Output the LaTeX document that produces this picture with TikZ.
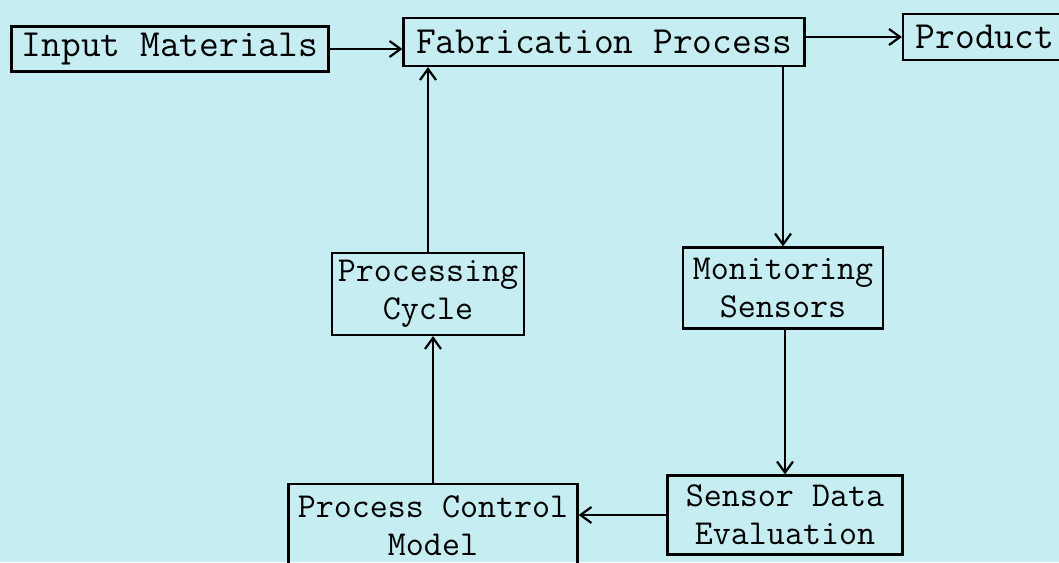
\documentclass[tikz,border=0pt]{standalone}
\usetikzlibrary{arrows.meta}
\definecolor{bgcyan}{RGB}{197,237,242}
\tikzset{
  procbox/.style={draw, line width=1.1pt, inner sep=0pt, align=center,
    font=\fontsize{17.5}{19}\selectfont\ttfamily},
  bigbox/.style={procbox, font=\fontsize{19.2}{21}\selectfont\ttfamily},
  flow/.style={line width=1.1pt, -{Straight Barb[length=5.5pt,width=8pt]}}
}
\begin{document}
\begin{tikzpicture}[x=0.5pt,y=-0.5pt]
\useasboundingbox[fill=bgcyan] (0,0) rectangle (1059,562);

% top row
\node[bigbox, minimum width=158.5pt, minimum height=22.5pt] at (170,49) (inmat) {Input Materials};
\node[bigbox, minimum width=200.5pt, minimum height=24pt] at (604,42) (fabproc) {Fabrication Process};
\node[bigbox, minimum width=82pt, minimum height=23pt] at (985,37) (product) {Product};

\draw[flow] (inmat.east) -- (inmat.east -| fabproc.west);
\draw[flow] (fabproc.east |- product.west) -- (product.west);

% middle row
\node[procbox, minimum width=96pt, minimum height=41pt] at (428,294) (proccycle) {Processing\\Cycle};
\node[procbox, minimum width=100pt, minimum height=40.5pt] at (783,288) (monsens) {Monitoring\\Sensors};

\draw[flow] (proccycle.north) -- (proccycle.north |- fabproc.south);
\draw[flow] (monsens.north |- fabproc.south) -- (monsens.north);

% bottom row
\node[procbox, minimum width=117.5pt, minimum height=39.5pt] at (785,515) (sensdata) {Sensor Data\\Evaluation};
\node[procbox, minimum width=144.5pt, minimum height=42pt] at (433,526) (pcmodel) {Process Control\\Model};

\draw[flow] (monsens.south -| sensdata.north) -- (sensdata.north);
\draw[flow] (sensdata.west) -- (sensdata.west -| pcmodel.east);
\draw[flow] (pcmodel.north) -- (pcmodel.north |- proccycle.south);

\end{tikzpicture}
\end{document}
